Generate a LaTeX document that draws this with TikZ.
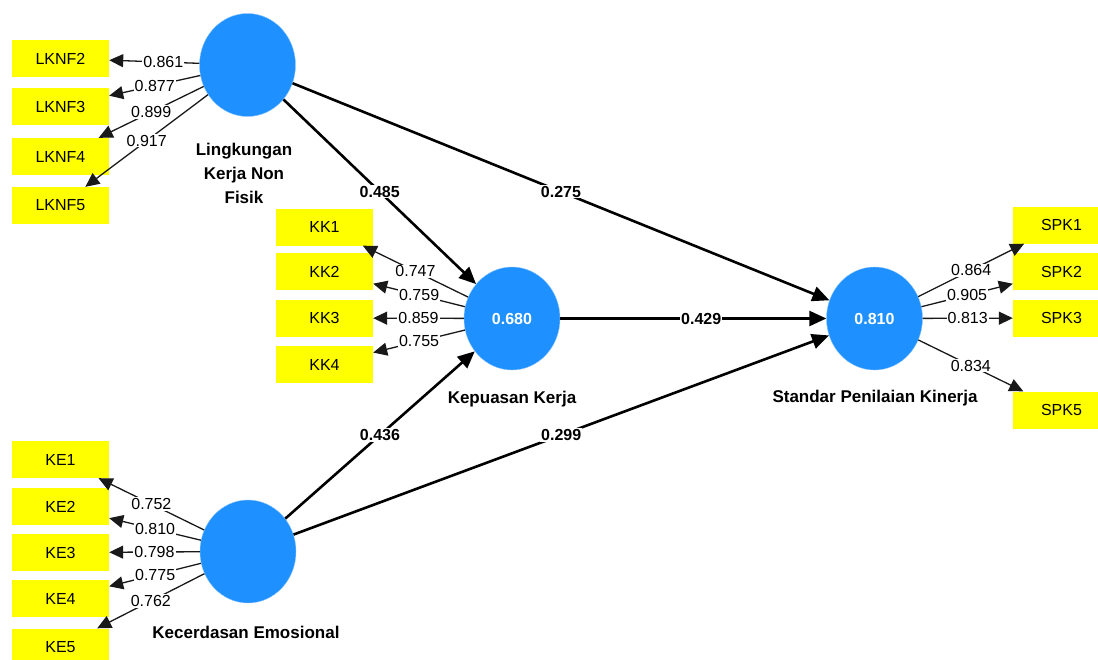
\documentclass[tikz,border=0pt]{standalone}
\usepackage{fontspec}
\setmainfont{Liberation Sans}
\usetikzlibrary{shapes.geometric,arrows.meta}

\definecolor{plsblue}{HTML}{1E90FF}
\definecolor{plsyellow}{HTML}{FFFF00}

\begin{document}
\begin{tikzpicture}[x=1pt,y=-1pt]
    % Estilo para las variables latentes
    \tikzstyle{latent_style} = [ellipse, fill=plsblue, draw=plsblue!50, minimum width=96pt, minimum height=103pt, inner sep=0pt, text=white, font=\fontsize{16}{19}\selectfont\bfseries]

    % Estilo para los indicadores
    \tikzstyle{item_style} = [rectangle, fill=plsyellow, minimum width=97pt, minimum height=37pt, inner sep=0pt, font=\fontsize{16}{19}\selectfont]

    % Estilo para las flechas
    \tikzstyle{load_style} = [-{Triangle[length=14pt,width=13pt]}, line width=1.3pt, draw=black!90]
    \tikzstyle{path_style} = [-{Triangle[length=17pt,width=15pt]}, line width=2.6pt]

    % Estilo para las etiquetas
    \tikzstyle{load_label} = [fill=white, inner sep=1pt, font=\fontsize{16}{19}\selectfont]
    \tikzstyle{path_label} = [fill=white, inner sep=1pt, font=\fontsize{16}{19}\selectfont\bfseries]
    \tikzstyle{name_style} = [align=center, font=\fontsize{17}{24}\selectfont\bfseries]

    \clip (0,0) rectangle (1098,659);

    % Variables latentes
    \node[latent_style] (LK) at (247.5, 65) {};
    \node[latent_style] (KK) at (512, 318.5) {0.680};
    \node[latent_style] (SPK) at (874.5, 318.5) {0.810};
    \node[latent_style] (KE) at (248, 551.5) {};

    \node[name_style] (LKname) at (244, 173) {Lingkungan\\Kerja Non\\Fisik};
    \node[name_style] (KKname) at (512, 399) {Kepuasan Kerja};
    \node[name_style] (SPKname) at (875, 398) {Standar Penilaian Kinerja};
    \node[name_style] (KEname) at (246, 632) {Kecerdasan Emosional};

    % Indicadores
    \node[item_style] (LKNF2) at (60.5, 58.5) {LKNF2};
    \node[item_style] (LKNF3) at (60.5, 106.5) {LKNF3};
    \node[item_style] (LKNF4) at (60.5, 156.5) {LKNF4};
    \node[item_style] (LKNF5) at (60.5, 205.5) {LKNF5};

    \node[item_style] (KK1) at (324.5, 227) {KK1};
    \node[item_style] (KK2) at (324.5, 271.5) {KK2};
    \node[item_style] (KK3) at (324.5, 318) {KK3};
    \node[item_style] (KK4) at (324.5, 364.5) {KK4};

    \node[item_style] (SPK1) at (1061.5, 225) {SPK1};
    \node[item_style] (SPK2) at (1061.5, 271.5) {SPK2};
    \node[item_style] (SPK3) at (1061.5, 318) {SPK3};
    \node[item_style] (SPK5) at (1061.5, 410) {SPK5};

    \node[item_style] (KE1) at (60.5, 459.5) {KE1};
    \node[item_style] (KE2) at (60.5, 506.5) {KE2};
    \node[item_style] (KE3) at (60.5, 552.5) {KE3};
    \node[item_style] (KE4) at (60.5, 598.5) {KE4};
    \node[item_style] (KE5) at (60.5, 647) {KE5};

    % Cargas externas
    \draw[load_style] (LK) to node[load_label, pos=0.4] {0.861} (LKNF2);
    \draw[load_style] (LK) to node[load_label, pos=0.5] {0.877} (LKNF3);
    \draw[load_style] (LK) to node[load_label, pos=0.5] {0.899} (LKNF4);
    \draw[load_style] (LK) to node[load_label, pos=0.5] {0.917} (LKNF5);

    \draw[load_style] (KK) to node[load_label, pos=0.5] {0.747} (KK1);
    \draw[load_style] (KK) to node[load_label, pos=0.5] {0.759} (KK2);
    \draw[load_style] (KK) to node[load_label, pos=0.5] {0.859} (KK3);
    \draw[load_style] (KK) to node[load_label, pos=0.5] {0.755} (KK4);

    \draw[load_style] (SPK) to node[load_label, pos=0.5] {0.864} (SPK1);
    \draw[load_style] (SPK) to node[load_label, pos=0.5] {0.905} (SPK2);
    \draw[load_style] (SPK) to node[load_label, pos=0.5] {0.813} (SPK3);
    \draw[load_style] (SPK) to node[load_label, pos=0.5] {0.834} (SPK5);

    \draw[load_style] (KE) to node[load_label, pos=0.5] {0.752} (KE1);
    \draw[load_style] (KE) to node[load_label, pos=0.5] {0.810} (KE2);
    \draw[load_style] (KE) to node[load_label, pos=0.5] {0.798} (KE3);
    \draw[load_style] (KE) to node[load_label, pos=0.5] {0.775} (KE4);
    \draw[load_style] (KE) to node[load_label, pos=0.5] {0.762} (KE5);

    % Coeficientes de ruta
    \draw[path_style] (LK) to node[path_label, pos=0.5] {0.485} (KK);
    \draw[path_style] (LK) to node[path_label, pos=0.5] {0.275} (SPK);
    \draw[path_style] (KK) to node[path_label, pos=0.53] {0.429} (SPK);
    \draw[path_style] (KE) to node[path_label, pos=0.5] {0.436} (KK);
    \draw[path_style] (KE) to node[path_label, pos=0.5] {0.299} (SPK);

\end{tikzpicture}
\end{document}
